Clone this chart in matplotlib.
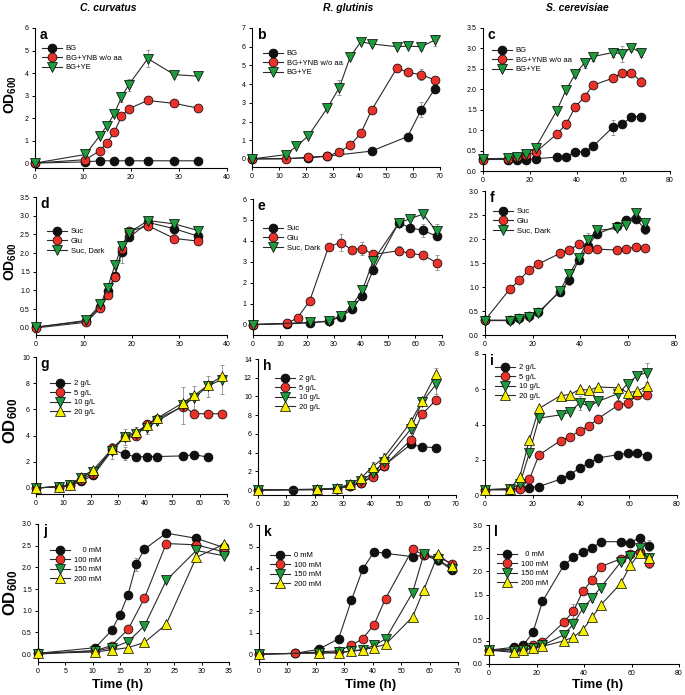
import numpy as np
import matplotlib
matplotlib.use("Agg")
import matplotlib.pyplot as plt

plt.rcParams['font.family'] = ['Liberation Sans', 'DejaVu Sans']
plt.rcParams['mathtext.fontset'] = 'custom'
plt.rcParams['mathtext.rm'] = 'Liberation Sans'
plt.rcParams['mathtext.bf'] = 'Liberation Sans:bold'

nan = np.nan

# sampling times (h)
t_cc = [0, 10.5, 13.5, 15, 16.5, 18, 19.5, 23.5, 29, 34]
t_rg = [0, 12.5, 16.5, 21, 28, 32.5, 36.5, 40.5, 44.5, 54, 58, 63, 68]
t_sc = [0, 10.5, 14.5, 18.5, 22.5, 31.5, 35.5, 39.5, 43.5, 47, 55.5, 59.5, 63.5, 67.5]
t_g = [0, 8.5, 12.5, 16.5, 21, 28, 32.5, 36.5, 40.5, 44.5, 54, 58, 63, 68]
t_h = [0, 12.5, 21, 28, 32.5, 36.5, 40.5, 44.5, 54, 58, 63]

# a - C. curvatus, nitrogen source
a_bg = [0, 0.05, 0.1, nan, 0.1, nan, 0.1, 0.1, 0.1, 0.1]
a_ynb = [0, 0.15, 0.55, 0.9, 1.36, 2.07, 2.41, 2.78, 2.65, 2.44]
a_ye = [0, 0.38, 1.21, 1.66, 2.18, 2.92, 3.47, 4.64, 3.93, 3.86]
a_ye_err = [0, 0, 0, 0, 0, 0.2, 0.25, 0.38, 0, 0]

# b - R. glutinis
b_bg = [0, nan, nan, 0.05, 0.15, nan, nan, nan, 0.42, nan, 1.2, 2.63, 3.73]
b_ynb = [0, 0.0, nan, 0.1, 0.15, 0.38, 0.72, 1.37, 2.6, 4.87, 4.63, 4.5, 4.23]
b_ye = [0, 0.23, 0.67, 1.24, 2.71, 3.81, 5.43, 6.27, 6.15, 6.0, 6.03, 6.0, 6.35]
b_bg_err = [0, 0, 0, 0, 0, 0, 0, 0, 0, 0, 0.1, 0.4, 0.2]
b_ynb_err = [0, 0, 0, 0, 0, 0, 0, 0, 0, 0.15, 0, 0.3, 0.05]
b_ye_err = [0, 0, 0, 0, 0, 0.4, 0, 0, 0, 0, 0, 0.2, 0.3]

# c - S. cerevisiae
c_bg = [0.3, 0.28, 0.28, 0.28, 0.3, 0.34, 0.34, 0.47, 0.47, 0.6, 1.07, 1.14, 1.33, 1.33]
c_ynb = [0.28, 0.29, 0.35, 0.38, 0.46, 0.9, 1.14, 1.57, 1.82, 2.1, 2.27, 2.4, 2.41, 2.19]
c_ye = [0.3, 0.31, 0.35, 0.42, 0.57, 1.47, 1.98, 2.38, 2.65, 2.8, 2.9, 2.87, 3.02, 2.9]
c_bg_err = [0, 0, 0, 0, 0, 0, 0, 0, 0, 0, 0.18, 0, 0, 0]
c_ynb_err = [0, 0, 0, 0, 0, 0, 0.12, 0, 0, 0, 0, 0, 0, 0.1]
c_ye_err = [0, 0, 0, 0, 0, 0, 0, 0.1, 0.12, 0.1, 0.12, 0.2, 0.08, 0.12]

# d - C. curvatus, carbon source
d_suc = [0.02, 0.18, 0.57, 0.98, 1.4, 2.03, 2.42, 2.82, 2.65, 2.45]
d_glu = [0.0, 0.15, 0.53, 0.87, 1.36, 2.11, 2.58, 2.73, 2.39, 2.32]
d_dark = [0.02, 0.2, 0.63, 1.07, 1.67, 2.2, 2.55, 2.87, 2.78, 2.6]
d_suc_err = [0, 0, 0, 0, 0, 0.3, 0, 0, 0.15, 0]
d_glu_err = [0, 0, 0, 0, 0, 0, 0.1, 0, 0, 0]

# e - R. glutinis
e_suc = [0, 0.03, nan, 0.08, 0.15, 0.37, 0.72, 1.37, 2.6, 4.87, 4.63, 4.5, 4.22]
e_glu = [0, 0.05, 0.32, 1.13, 3.72, 3.92, 3.58, 3.63, 3.35, 3.53, 3.4, 3.32, 2.95]
e_dark = [0, nan, nan, 0.1, 0.17, 0.42, 0.88, 1.63, 3.05, 4.85, 5.05, 5.28, 4.45]
e_suc_err = [0, 0, 0, 0, 0, 0, 0, 0, 0, 0.2, 0, 0.3, 0]
e_glu_err = [0, 0, 0, 0, 0, 0.4, 0, 0.3, 0.2, 0.2, 0, 0, 0.35]
e_dark_err = [0, 0, 0, 0, 0, 0, 0, 0, 0, 0, 0, 0, 0.35]

# f - S. cerevisiae
f_suc = [0.31, 0.31, 0.36, 0.4, 0.48, 0.9, 1.14, 1.57, 1.86, 2.1, 2.27, 2.4, 2.42, 2.2]
f_glu = [0.31, 0.96, 1.14, 1.36, 1.48, 1.7, 1.77, 1.89, 1.8, 1.79, 1.77, 1.8, 1.83, 1.81]
f_dark = [0.3, 0.3, 0.34, 0.37, 0.45, 0.92, 1.27, 1.6, 1.98, 2.18, 2.22, 2.3, 2.55, 2.33]
f_suc_err = [0, 0, 0, 0, 0, 0, 0.1, 0, 0.15, 0, 0, 0, 0, 0.1]
f_glu_err = [0, 0, 0, 0, 0.06, 0.1, 0, 0, 0, 0, 0, 0, 0.08, 0]
f_dark_err = [0, 0, 0, 0, 0, 0, 0.1, 0, 0.15, 0.1, 0, 0, 0.05, 0]

# g - C. curvatus, sugar concentration
g_2 = [0, 0.1, 0.2, 0.5, 0.97, 2.9, 2.6, 2.37, 2.4, 2.4, 2.45, 2.55, 2.35, nan]
g_5 = [0, 0.1, 0.2, 0.63, 1.1, 3.05, 3.87, 3.94, 4.9, 5.28, 6.22, 5.67, 5.67, 5.67]
g_10 = [0, 0.1, 0.2, 0.75, 1.25, 2.85, 3.9, 4.15, 4.6, 5.1, 6.3, 6.9, 7.78, 8.28]
g_20 = [0, 0.1, 0.25, 0.8, 1.4, 3.0, 3.94, 4.25, 4.78, 5.34, 6.52, 7.07, 7.84, 8.52]
g_2_err = [0, 0, 0, 0, 0, 0.3, 0.5, 0, 0.3, 0, 0, 0, 0, 0]
g_10_err = [0, 0, 0, 0, 0, 0.6, 0.6, 0.5, 0.5, 0.3, 1.4, 0.9, 0.8, 1.1]
g_5_err = [0, 0, 0, 0, 0, 0.3, 0.3, 0.3, 0.3, 0, 0.3, 0.2, 0.15, 0.15]

# h - R. glutinis
h_2 = [0, 0.05, 0.05, 0.15, 0.43, 0.8, 1.5, 2.6, 4.87, 4.62, 4.52]
h_5 = [0, nan, 0.05, 0.15, 0.4, 0.75, 1.4, 2.55, 5.36, 8.1, 9.64]
h_10 = [0, nan, 0.05, 0.15, 0.5, 1.0, 1.8, 3.0, 6.5, 9.43, 11.3]
h_20 = [0, nan, 0.1, 0.2, 0.65, 1.3, 2.5, 3.45, 7.25, 9.54, 12.45]
h_20_err = [0, 0, 0, 0, 0, 0, 0.5, 0.5, 0.4, 0.4, 0.6]
h_10_err = [0, 0, 0, 0, 0, 0, 0, 0, 0.4, 0.3, 1.0]

# i - S. cerevisiae
i_2 = [0.3, 0.3, 0.38, 0.42, 0.48, 0.9, 1.14, 1.56, 1.81, 2.1, 2.29, 2.38, 2.4, 2.19]
i_5 = [0.3, 0.3, 0.34, 0.9, 2.27, 3.09, 3.31, 3.64, 3.94, 4.32, 5.1, 5.22, 5.66, 5.66]
i_10 = [0.3, 0.35, 0.61, 2.4, 4.36, 4.55, 4.7, 5.24, 5.03, 5.31, 5.75, 6.32, 6.78, 6.95]
i_20 = [0.3, 0.36, 1.03, 3.14, 4.91, 5.64, 5.7, 6.0, 5.94, 6.13, 6.08, 5.81, 5.89, 6.19]
i_5_err = [0, 0, 0, 0, 0, 0, 0, 0, 0, 0, 0.3, 0.3, 0, 0]
i_10_err = [0, 0, 0, 0, 0, 0, 0, 0.4, 0, 0, 0.4, 0, 0, 0.55]

# j - C. curvatus, NaCl
j_0 = [0.02, 0.15, 0.55, 0.91, 1.37, 2.07, 2.42, 2.79, 2.67, 2.46]
j_100 = [0.02, 0.08, 0.2, nan, 0.57, nan, 1.29, 2.55, 2.52, 2.36]
j_150 = [0.0, 0.08, 0.14, nan, 0.29, nan, 0.65, 1.7, 2.39, 2.27]
j_200 = [0.02, 0.05, 0.1, nan, 0.15, nan, 0.27, 0.69, 2.23, 2.53]
j_0_err = [0, 0, 0, 0, 0, 0.15, 0, 0, 0.1, 0]

# k - R. glutinis
k_0 = [0, 0.03, nan, 0.22, 0.71, 2.5, 3.95, 4.76, 4.68, 4.53, 4.6, 4.35, 3.9]
k_100 = [0, 0.03, nan, 0.1, 0.15, 0.4, 0.72, 1.37, 2.58, 4.87, 4.6, 4.5, 4.2]
k_150 = [0, nan, nan, 0.05, 0.08, 0.12, 0.2, 0.4, 0.7, 2.85, 4.65, 4.4, 3.95]
k_200 = [0, nan, nan, 0.05, 0.05, 0.15, 0.2, 0.3, 0.45, 1.72, 3.0, 4.65, 4.1]
k_0_err = [0, 0, 0, 0, 0, 0, 0, 0.1, 0.2, 0, 0, 0.2, 0]
k_100_err = [0, 0, 0, 0, 0, 0, 0, 0, 0, 0.2, 0, 0.25, 0]

# l - S. cerevisiae
l_0 = [0.3, 0.36, 0.41, 0.68, 1.35, 2.13, 2.3, 2.42, 2.5, 2.64, 2.64, 2.62, 2.73, 2.55]
l_100 = [0.3, 0.32, 0.35, 0.4, 0.47, 0.9, 1.14, 1.57, 1.82, 2.1, 2.27, 2.38, 2.41, 2.18]
l_150 = [0.3, 0.28, 0.3, 0.35, 0.4, 0.63, 0.86, 1.2, 1.43, 1.65, 2.2, 2.33, 2.5, 2.28]
l_200 = [0.3, 0.25, 0.3, 0.34, 0.38, 0.5, 0.58, 0.74, 1.01, 1.27, 1.74, 2.13, 2.4, 2.28]
l_0_err = [0, 0, 0, 0, 0, 0, 0, 0, 0, 0, 0, 0.1, 0.05, 0.12]
l_100_err = [0, 0, 0, 0, 0, 0, 0.15, 0, 0, 0, 0, 0, 0, 0.1]
l_150_err = [0, 0, 0, 0, 0, 0, 0, 0, 0.1, 0, 0, 0, 0, 0]

lab_n = ['BG', 'BG+YNB w/o aa', 'BG+YE']
lab_c = ['Suc', 'Glu', 'Suc, Dark']
lab_s = ['2 g/L', '5 g/L', '10 g/L', '20 g/L']
lab_m = ['    0 mM', '100 mM', '150 mM', '200 mM']
lab_m2 = ['0 mM', '100 mM', '150 mM', '200 mM']
lab_m3 = ['  0 mM', '100 mM', '150 mM', '200 mM']

STYLES = [('o', '#111111', 6.4), ('o', '#e8322a', 6.4), ('v', '#1f9a3e', 6.6), ('^', '#f7ef00', 6.6)]

W, H = 685, 695
fig = plt.figure(figsize=(W / 100, H / 100), dpi=100)


def panel(box, xmax, xstep, ymax, ystep, ybot, letter, series, labels, leg_xy, yfmt='{:g}'):
    l, t, r, b = box
    ax = fig.add_axes([l / W, 1 - b / H, (r - l) / W, (b - t) / H])
    for k, (tt, yy, ee) in enumerate(series):
        tt = np.asarray(tt, float)
        yy = np.asarray(yy, float)
        m = ~np.isnan(yy)
        if ee is not None:
            ee = np.asarray(ee, float)
            ax.errorbar(tt[m], yy[m], yerr=ee[m], fmt='none', ecolor='#8c8c8c',
                        elinewidth=0.6, capsize=1.6, capthick=0.6, zorder=1 + k * 0.01)
        mk, col, ms = STYLES[k]
        ax.plot(tt[m], yy[m], color='#2a2a2a', lw=0.8, marker=mk, ms=ms, mfc=col,
                mec='black', mew=0.5, label=labels[k], clip_on=False, zorder=2 + k)
    ax.set_xlim(0, xmax)
    ax.set_ylim(ybot, ymax)
    ax.set_xticks(np.arange(0, xmax + 0.01, xstep))
    yt = np.arange(0, ymax + 0.001, ystep)
    ax.set_yticks(yt)
    ax.set_yticklabels([yfmt.format(v) for v in yt])
    for s in ['top', 'right']:
        ax.spines[s].set_visible(False)
    for s in ['left', 'bottom']:
        ax.spines[s].set_linewidth(0.8)
    ax.tick_params(direction='out', length=2.5, width=0.7, labelsize=5, pad=2)
    ax.text(0.025, 1.0, letter, transform=ax.transAxes, fontsize=10, fontweight='bold',
            ha='left', va='top')
    lx, ly = leg_xy
    ax.legend(loc='upper left', bbox_to_anchor=((lx - l) / (r - l), (b - (ly - 5)) / (b - t)),
              frameon=False, fontsize=5.5, handlelength=2.6, handletextpad=0.5,
              labelspacing=0.28, borderpad=0, borderaxespad=0, markerscale=1.0)
    return ax


panel((35, 28, 227, 168), 40, 10, 6, 1, -0.22, 'a',
      [(t_cc, a_bg, None), (t_cc, a_ynb, None), (t_cc, a_ye, a_ye_err)], lab_n, (42, 50))
panel((252, 28, 440, 167), 70, 10, 7, 1, -0.43, 'b',
      [(t_rg, b_bg, b_bg_err), (t_rg, b_ynb, b_ynb_err), (t_rg, b_ye, b_ye_err)], lab_n, (263, 55))
panel((483, 28, 670, 171), 80, 20, 3.5, 0.5, 0, 'c',
      [(t_sc, c_bg, c_bg_err), (t_sc, c_ynb, c_ynb_err), (t_sc, c_ye, c_ye_err)], lab_n, (492, 52),
      yfmt='{:.1f}')

panel((36, 197, 227, 335), 40, 10, 3.5, 0.5, -0.19, 'd',
      [(t_cc, d_suc, d_suc_err), (t_cc, d_glu, d_glu_err), (t_cc, d_dark, None)], lab_c, (47, 233),
      yfmt='{:.1f}')
panel((253, 199, 442, 335), 70, 10, 6, 1, -0.5, 'e',
      [(t_rg, e_suc, e_suc_err), (t_rg, e_glu, e_glu_err), (t_rg, e_dark, e_dark_err)], lab_c, (263, 230))
panel((485, 191, 675, 335), 80, 20, 3.0, 0.5, 0, 'f',
      [(t_sc, f_suc, f_suc_err), (t_sc, f_glu, f_glu_err), (t_sc, f_dark, f_dark_err)], lab_c, (493, 213),
      yfmt='{:.1f}')

panel((36, 357, 227, 494), 70, 10, 10, 2, -0.46, 'g',
      [(t_g, g_2, g_2_err), (t_g, g_5, g_5_err), (t_g, g_10, g_10_err), (t_g, g_20, None)], lab_s, (50, 385))
panel((258, 359, 456, 495), 70, 10, 14, 2, -0.53, 'h',
      [(t_h, h_2, None), (t_h, h_5, None), (t_h, h_10, h_10_err), (t_h, h_20, h_20_err)], lab_s, (275, 380))
panel((485, 354, 677, 495), 80, 20, 8, 2, 0, 'i',
      [(t_sc, i_2, None), (t_sc, i_5, i_5_err), (t_sc, i_10, i_10_err), (t_sc, i_20, None)], lab_s, (495, 369))

panel((38, 524, 229, 662), 35, 5, 3.0, 0.5, -0.18, 'j',
      [(t_cc, j_0, j_0_err), (t_cc, j_100, None), (t_cc, j_150, None), (t_cc, j_200, None)], lab_m, (50, 552),
      yfmt='{:.1f}')
panel((259, 525, 458, 662), 70, 10, 6, 1, -0.37, 'k',
      [(t_rg, k_0, k_0_err), (t_rg, k_100, k_100_err), (t_rg, k_150, None), (t_rg, k_200, None)], lab_m2,
      (270, 557))
panel((489, 525, 679, 664), 80, 20, 3.0, 0.5, 0, 'l',
      [(t_sc, l_0, l_0_err), (t_sc, l_100, l_100_err), (t_sc, l_150, l_150_err), (t_sc, l_200, None)],
      lab_m3, (497, 556), yfmt='{:.1f}')

# column titles
for x, name in [(108, 'C. curvatus'), (348, 'R. glutinis'), (577, 'S. cerevisiae')]:
    fig.text(x / W, 1 - 8 / H, name, ha='center', va='center', fontsize=7.5,
             fontstyle='italic', fontweight='bold')

# y labels
for y, fs in [(95, 10), (262, 10), (421, 12), (593, 12)]:
    fig.text(11 / W, 1 - y / H, r'$\mathbf{OD_{600}}$', rotation=90, ha='center', va='center',
             fontsize=fs)

# x labels
for x in [118, 371, 598]:
    fig.text(x / W, 1 - 685 / H, 'Time (h)', ha='center', va='center', fontsize=9.5,
             fontweight='bold')

fig.savefig('out.png', dpi=100)
